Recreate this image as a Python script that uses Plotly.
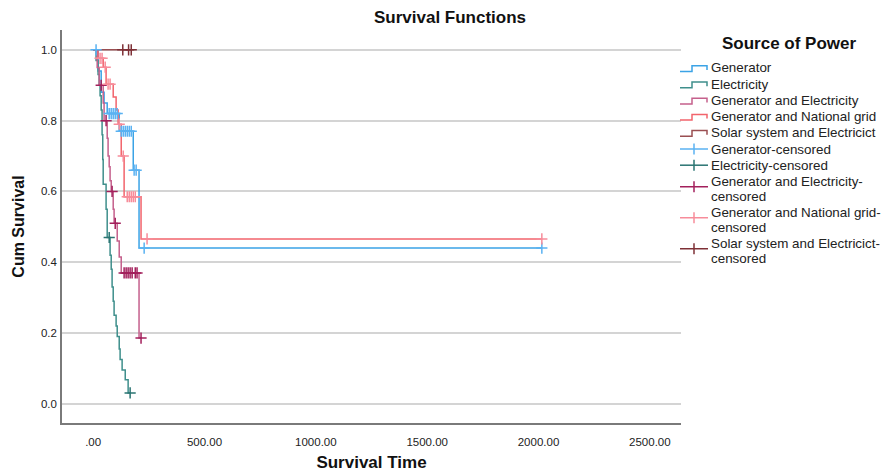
import plotly.graph_objects as go

# ---------------- data ----------------
groups = ["Generator", "Electricity", "Generator and Electricity",
          "Generator and National grid", "Solar system and Electricict"]

# event times and survival after each event
gen_t = [22, 36, 49, 63, 117, 180, 206]
gen_s = [0.94, 0.88, 0.85, 0.82, 0.77, 0.66, 0.44]
gen_ct = [13, 72, 81, 90, 99, 108, 126, 135, 144, 153, 162, 171, 184, 193, 229, 2015]
gen_cs = [1.0, 0.82, 0.82, 0.82, 0.82, 0.82, 0.77, 0.77, 0.77, 0.77, 0.77, 0.77, 0.66, 0.66, 0.44, 0.44]

ele_t = [13, 22, 27, 31, 36, 40, 43, 45, 58, 63, 76, 81, 85, 90, 94, 103, 108, 117, 121, 130, 144, 157]
ele_s = [0.97, 0.93, 0.90, 0.87, 0.83, 0.76, 0.69, 0.62, 0.55, 0.47, 0.42, 0.38, 0.33, 0.29, 0.25,
         0.22, 0.19, 0.155, 0.125, 0.096, 0.068, 0.031]
ele_ct = [72, 166]
ele_cs = [0.47, 0.031]

ge_t = [18, 27, 45, 49, 63, 67, 72, 76, 81, 90, 94, 108, 117, 126, 206]
ge_s = [0.95, 0.90, 0.85, 0.80, 0.75, 0.70, 0.67, 0.63, 0.60, 0.55, 0.51, 0.46, 0.415, 0.37, 0.186]
ge_ct = [36, 58, 85, 99, 139, 148, 157, 166, 175, 189, 197, 215]
ge_cs = [0.90, 0.80, 0.60, 0.51, 0.37, 0.37, 0.37, 0.37, 0.37, 0.37, 0.37, 0.186]

gn_t = [22, 45, 58, 90, 103, 112, 126, 139, 215]
gn_s = [0.976, 0.951, 0.903, 0.867, 0.83, 0.79, 0.70, 0.585, 0.466]
gn_ct = [31, 40, 54, 67, 76, 117, 135, 153, 162, 171, 180, 189, 242, 2015]
gn_cs = [0.976, 0.976, 0.951, 0.903, 0.903, 0.79, 0.70, 0.585, 0.585, 0.585, 0.585, 0.585, 0.466, 0.466]

sol_t = []
sol_s = []
sol_ct = [133, 159, 171]
sol_cs = [1.0, 1.0, 1.0]

x_ticks = [0, 500, 1000, 1500, 2000, 2500]
x_ticktext = [".00", "500.00", "1000.00", "1500.00", "2000.00", "2500.00"]
y_ticks = [0.0, 0.2, 0.4, 0.6, 0.8, 1.0]
y_ticktext = ["0.0", "0.2", "0.4", "0.6", "0.8", "1.0"]

legend_title = "Source of Power"
cens_names = ["Generator-censored", "Electricity-censored",
              "Generator and Electricity-<br>censored",
              "Generator and National grid-<br>censored",
              "Solar system and Electricict-<br>censored"]

line_colors = ["#3ba3e6", "#3f8f8c", "#c5608c", "#f2646c", "#9a4f52"]
cens_colors = ["#5ab2f2", "#2a7472", "#a3205c", "#f78c9a", "#7e3036"]

series = [(gen_t, gen_s, gen_ct, gen_cs), (ele_t, ele_s, ele_ct, ele_cs),
          (ge_t, ge_s, ge_ct, ge_cs), (gn_t, gn_s, gn_ct, gn_cs),
          (sol_t, sol_s, sol_ct, sol_cs)]

fig = go.Figure()

for name, (t, s, ct, cs), col in zip(groups, series, line_colors):
    end_t = max(ct + t)
    xs = [0] + list(t) + [end_t]
    ys = [1.0] + list(s) + [(s[-1] if s else 1.0)]
    fig.add_trace(go.Scatter(x=xs, y=ys, mode="lines", name=name, showlegend=False,
                             line=dict(color=col, width=1.5, shape="hv")))

for name, (t, s, ct, cs), col in zip(cens_names, series, cens_colors):
    xs, ys = [], []
    for a, b in zip(ct, cs):
        xs += [a, None]
        ys += [b, None]
    fig.add_trace(go.Scatter(x=xs, y=ys, mode="markers", name=name.replace("<br>", ""),
                             showlegend=False,
                             marker=dict(symbol="cross-thin", size=8,
                                         line=dict(color=col, width=1.5))))

# ---------------- layout geometry ----------------
# page body has an 8px default margin, so the figure is 8px smaller than the window
FW, FH = 882, 464
PL, PT, PR, PB = 54, 22, 209, 49
PW, PH = FW - PL - PR, FH - PT - PB
OFF = 8


def pxx(xp):  # page x -> paper x
    return (xp - OFF - PL) / PW


def pyy(yp):  # page y -> paper y
    return (PT + PH - (yp - OFF)) / PH


# ---------------- hand-built legend (SPSS style) ----------------
FONT = "Liberation Sans, Arial, sans-serif"
annotations = [dict(text="<b>" + legend_title + "</b>", x=pxx(789), y=pyy(44),
                    xref="paper", yref="paper", xanchor="center", yanchor="middle",
                    showarrow=False, font=dict(family=FONT, size=17, color="#111111"))]
shapes = []
ICON_L, ICON_M, ICON_R, TEXT_X = 680, 692, 707, 710
SINGLE_STEP, LINE_GAP, DOUBLE_STEP = 16.2, 15.5, 31.0

entries = [(g, c, "step") for g, c in zip(groups, line_colors)] + \
          [(n, c, "cens") for n, c in zip(cens_names, cens_colors)]

yc = 68.0
prev_lines = 1
for i, (label, col, kind) in enumerate(entries):
    lines = label.split("<br>")
    if i > 0:
        if prev_lines == 1 and len(lines) == 1:
            yc += SINGLE_STEP
        elif prev_lines == 1:
            yc += 15.8
        else:
            yc += DOUBLE_STEP
    for k, ln in enumerate(lines):
        annotations.append(dict(text=ln, x=pxx(TEXT_X), y=pyy(yc + k * LINE_GAP),
                                xref="paper", yref="paper", xanchor="left",
                                yanchor="middle", showarrow=False, borderpad=0,
                                font=dict(family=FONT, size=13.4, color="#222222")))
    icon_y = yc + (LINE_GAP / 2 - 2 if len(lines) > 1 else 0)
    if kind == "step":
        path = "M {} {} L {} {} L {} {} L {} {} L {} {}".format(
            pxx(ICON_L), pyy(icon_y + 3.5), pxx(ICON_M), pyy(icon_y + 3.5),
            pxx(ICON_M), pyy(icon_y - 2.2), pxx(ICON_R), pyy(icon_y - 2.2),
            pxx(ICON_R), pyy(icon_y + 2))
        shapes.append(dict(type="path", path=path, xref="paper", yref="paper",
                           line=dict(color=col, width=1.5)))
    else:
        shapes.append(dict(type="line", xref="paper", yref="paper",
                           x0=pxx(ICON_L), x1=pxx(ICON_R + 1), y0=pyy(icon_y), y1=pyy(icon_y),
                           line=dict(color=col, width=1.5)))
        mid = (ICON_L + ICON_R + 1) / 2
        shapes.append(dict(type="line", xref="paper", yref="paper",
                           x0=pxx(mid), x1=pxx(mid), y0=pyy(icon_y - 5.5), y1=pyy(icon_y + 5.5),
                           line=dict(color=col, width=1.5)))
    prev_lines = len(lines)

fig.update_layout(
    width=FW, height=FH,
    margin=dict(l=PL, r=PR, t=PT, b=PB, autoexpand=False),
    paper_bgcolor="white", plot_bgcolor="white",
    font=dict(family=FONT, color="#222222", size=11.5),
    title=dict(text="<b>Survival Functions</b>", x=(450 - OFF) / FW, xref="container",
               xanchor="center", y=1 - (17 - OFF) / FH, yanchor="middle", yref="container",
               font=dict(size=17, color="#111111")),
    xaxis=dict(range=[-140, 2640], tickvals=x_ticks, ticktext=x_ticktext,
               showgrid=False, zeroline=False, showline=True,
               linecolor="#7a7a7a", linewidth=1.5, ticks="", ticklabelstandoff=7,
               title=dict(text="<b>Survival Time</b>", standoff=16,
                          font=dict(size=17, color="#111111"))),
    yaxis=dict(range=[-0.054, 1.056], tickvals=y_ticks, ticktext=y_ticktext,
               showgrid=True, gridcolor="#d4d4d4", gridwidth=1.5,
               zeroline=False, showline=True, linecolor="#7a7a7a", linewidth=1.5,
               ticks="", ticklabelstandoff=1,
               title=dict(text="<b>Cum Survival</b>", standoff=12,
                          font=dict(size=16, color="#111111"))),
    showlegend=False,
    annotations=annotations,
    shapes=shapes,
)

fig.write_html("out.html")
